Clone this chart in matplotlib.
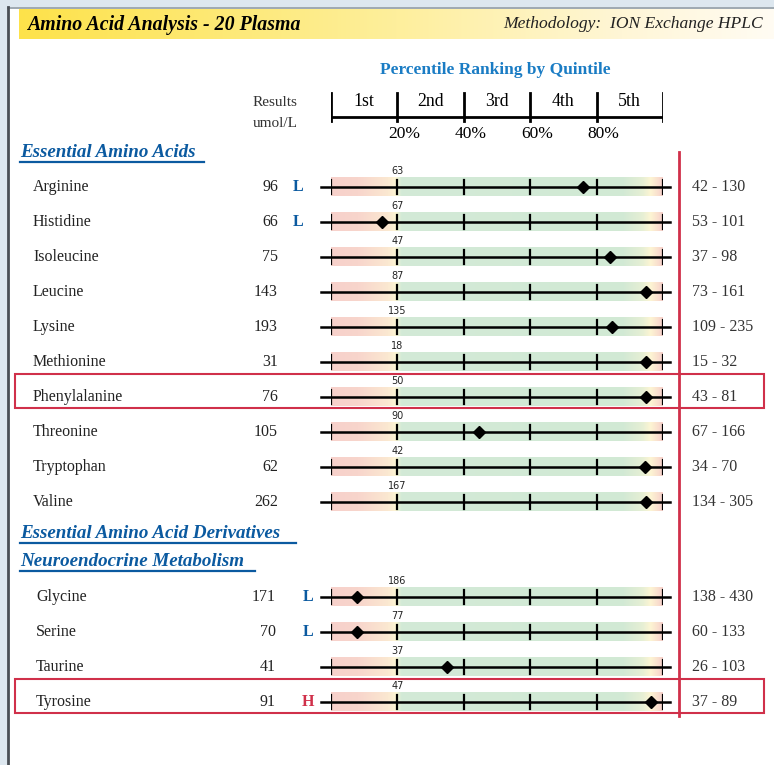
import numpy as np
import matplotlib.pyplot as plt
from matplotlib.colors import LinearSegmentedColormap
from matplotlib.patches import Rectangle

# ---- data ----
names_ess = ["Arginine", "Histidine", "Isoleucine", "Leucine", "Lysine", "Methionine",
             "Phenylalanine", "Threonine", "Tryptophan", "Valine"]
results_ess = [96, 66, 75, 143, 193, 31, 76, 105, 62, 262]
flags_ess = ["L", "L", "", "", "", "", "", "", "", ""]
q20_ess = [63, 67, 47, 87, 135, 18, 50, 90, 42, 167]
pct_ess = [76, 15.5, 84, 95, 84.5, 95, 95, 44.5, 94.5, 95]
ranges_ess = ["42 - 130", "53 - 101", "37 - 98", "73 - 161", "109 - 235", "15 - 32",
              "43 - 81", "67 - 166", "34 - 70", "134 - 305"]

names_neuro = ["Glycine", "Serine", "Taurine", "Tyrosine"]
results_neuro = [171, 70, 41, 91]
flags_neuro = ["L", "L", "", "H"]
q20_neuro = [186, 77, 37, 47]
pct_neuro = [7.8, 7.8, 35, 96.5]
ranges_neuro = ["138 - 430", "60 - 133", "26 - 103", "37 - 89"]

highlighted = ["Phenylalanine", "Tyrosine"]
quintiles = ["1st", "2nd", "3rd", "4th", "5th"]
quintile_edges = [0, 20, 40, 60, 80, 100]

W, H = 774, 765
ROW0, ROW_H = 187, 35           # pixel centre of first row, row pitch
GROUP2_OFFSET = 410 / ROW_H     # second group starts lower down
BLUE = "#0b5aa0"
RED = "#d0304a"
SERIF = "Liberation Serif"


def row(px):
    """pixel y -> row units used by the bar axes"""
    return (px - ROW0) / ROW_H


def ypx(pos):
    return ROW0 + pos * ROW_H


fig = plt.figure(figsize=(W / 100, H / 100), dpi=100)
fig.patch.set_facecolor("#dde7ef")

bg = fig.add_axes([0, 0, 1, 1])
bg.set_xlim(0, W)
bg.set_ylim(H, 0)
bg.axis("off")

# page and frame
bg.add_patch(Rectangle((8, 7), W - 8, H - 7, facecolor="white", edgecolor="none", zorder=0))
bg.plot([8, W], [7.5, 7.5], color="#8d9aa3", lw=1.2, zorder=1)
bg.plot([8, 8], [7, H], color="#4a4f55", lw=2, zorder=1)

# header band
hdr_cmap = LinearSegmentedColormap.from_list(
    "hdr", [(0, "#fde24a"), (0.5, "#feef9c"), (0.8, "#fff6d6"), (1, "#fffcf3")])
bg.imshow(np.linspace(0, 1, 256)[None, :], cmap=hdr_cmap, aspect="auto",
          extent=[19, W, 39, 9], zorder=1)
bg.text(27, 25, "Amino Acid Analysis - 20 Plasma", family=SERIF, fontsize=14.3,
        weight="bold", style="italic", va="center", ha="left", zorder=3)
bg.text(763, 24, "Methodology:  ION Exchange HPLC", family=SERIF, fontsize=12.6,
        style="italic", color="#222222", va="center", ha="right", zorder=3)

bg.text(495, 70, "Percentile Ranking by Quintile", family=SERIF, fontsize=12.5,
        weight="bold", color="#1a7cc4", ha="center", va="center")
bg.text(253, 102, "Results", family=SERIF, fontsize=11, color="#333333", va="center")
bg.text(253, 123, "umol/L", family=SERIF, fontsize=11, color="#333333", va="center")


def heading(x, y, label, width):
    bg.text(x, y, label, family=SERIF, fontsize=13.7, weight="bold", style="italic",
            color=BLUE, va="center", ha="left")
    bg.plot([x, x + width], [y + 10, y + 10], color=BLUE, lw=1.6)


heading(20, 152, "Essential Amino Acids", 184)
heading(20, 533, "Essential Amino Acid Derivatives", 276)
heading(20, 561, "Neuroendocrine Metabolism", 235)

# red divider line
bg.plot([679, 679], [152, 716], color=RED, lw=2, zorder=3)

# ---- bar axes: x in percentile, y in rows ----
ax = fig.add_axes([331 / W, 0, 332 / W, 1])
ax.set_xlim(0, 100)
ax.set_ylim(row(H), row(0))
ax.axis("off")

# quintile header
ax.plot([0, 100], [row(117), row(117)], color="black", lw=2, solid_capstyle="butt")
for e in quintile_edges:
    ax.plot([e, e], [row(93), row(121)], color="black", lw=2)
for i, q in enumerate(quintiles):
    ax.text(quintile_edges[i] + 10, row(101), q, family=SERIF, fontsize=12.8,
            ha="center", va="center")
for e in quintile_edges[1:-1]:
    ax.text(e + 2, row(134), f"{e}%", family=SERIF, fontsize=12.5,
            ha="center", va="center")

band_cmap = LinearSegmentedColormap.from_list(
    "band", [(0, "#f7d1cb"), (0.08, "#f8d5cc"), (0.17, "#fbe8d1"), (0.195, "#fdf6d3"),
             (0.21, "#d3ead7"), (0.88, "#d1e9d4"), (0.94, "#e6efd5"), (0.965, "#fdf5d3"),
             (1, "#f7d1cb")])
grad = np.linspace(0, 1, 512)[None, :]


def draw_group(names, results, flags, q20, pct, ranges, start, name_x, val_x, flag_x):
    for i, name in enumerate(names):
        pos = start + i
        y = ypx(pos)
        ax.imshow(grad, cmap=band_cmap, aspect="auto",
                  extent=[0, 100, pos + 0.27, pos - 0.27], zorder=1)
        ax.plot([-3, 102], [pos, pos], color="black", lw=1.8, zorder=2, clip_on=False)
        for e in quintile_edges:
            ax.plot([e, e], [pos - 0.19, pos + 0.19], color="black", lw=1.6, zorder=2)
        ax.plot(pct[i], pos, marker="D", color="black", markersize=6.5, zorder=3)
        ax.text(20, pos - 0.47, str(q20[i]), fontsize=7, family="DejaVu Sans",
                color="#222222", ha="center", va="center")

        bg.text(name_x, y, name, family=SERIF, fontsize=11.5, color="#222222",
                ha="left", va="center")
        bg.text(val_x, y, str(results[i]), family=SERIF, fontsize=11.5, color="#222222",
                ha="right", va="center")
        if flags[i]:
            bg.text(flag_x, y, flags[i], family=SERIF, fontsize=11.5, weight="bold",
                    color=BLUE if flags[i] == "L" else RED, ha="center", va="center")
        bg.text(692, y, ranges[i], family=SERIF, fontsize=11.5, color="#333333",
                ha="left", va="center")
        if name in highlighted:
            bg.add_patch(Rectangle((15, y - 23), 749, 34, facecolor="none",
                                   edgecolor=RED, lw=1.5, zorder=4))


draw_group(names_ess, results_ess, flags_ess, q20_ess, pct_ess, ranges_ess,
           0, 33, 278, 298)
draw_group(names_neuro, results_neuro, flags_neuro, q20_neuro, pct_neuro, ranges_neuro,
           GROUP2_OFFSET, 36, 276, 308)

fig.savefig("out.png", dpi=100, facecolor=fig.get_facecolor())
